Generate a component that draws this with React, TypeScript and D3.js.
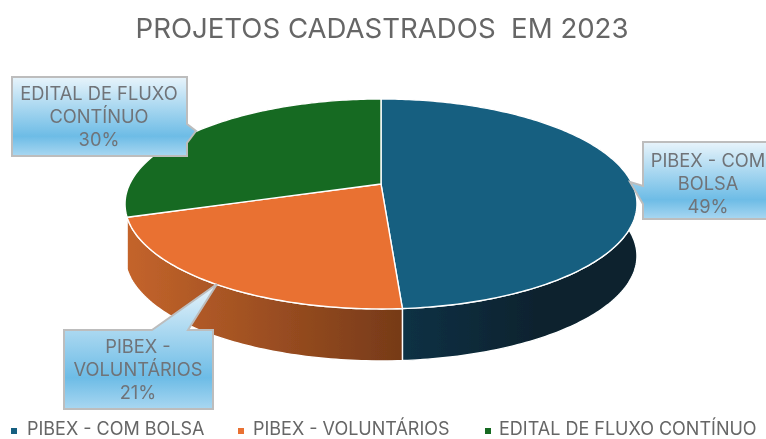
import React from "react";
import * as d3 from "d3";

const categories = ["PIBEX - COM BOLSA", "PIBEX - VOLUNTÁRIOS", "EDITAL DE FLUXO CONTÍNUO"];
const values = [48.9, 21.1, 30];
const topColors = ["#145f80", "#E97132", "#196B24"];
const wallFrom = ["#0c3348", "#c4642b", "#114a19"];
const wallTo = ["#07232f", "#763a18", "#0c3512"];
const calloutLines = [["PIBEX - COM", "BOLSA", "49%"], ["PIBEX -", "VOLUNTÁRIOS", "21%"], ["EDITAL DE FLUXO", "CONTÍNUO", "30%"]];
const title = "PROJETOS CADASTRADOS  EM 2023";

const FONT = "Inter, 'Open Sans', sans-serif";
const CX = 381, CY = 184, A = 101.2, C = 251.3, P = -0.19, DEPTH = 52;

const project = (angle: number, r = 1): [number, number] => {
  const u = Math.sin(angle) * r, v = -Math.cos(angle) * r;
  const w = 1 + P * v;
  return [CX + (C * u) / w, CY + (A * v) / w];
};

const callouts = [
  { pts: [[643, 142], [770, 142], [770, 219], [643, 219], [643, 204], [630, 182], [643, 186]], tx: 708, ty: 160 },
  { pts: [[64, 330], [152, 330], [217, 284], [188, 330], [213, 330], [213, 409], [64, 409]], tx: 138, ty: 346 },
  { pts: [[12, 77], [187, 77], [187, 124], [196, 131], [187, 143], [187, 156], [12, 156]], tx: 99, ty: 93 },
];
const legendX = [[14, 27], [241, 253], [488, 499]];
const line = d3.line();

export default function App() {
  const arcs = d3.pie<number>().sort(null)(values);
  const slices = arcs.map((a) => {
    const n = Math.max(2, Math.ceil((a.endAngle - a.startAngle) * 60));
    const angles = d3.range(n + 1).map((i) => a.startAngle + ((a.endAngle - a.startAngle) * i) / n);
    const rim = angles.map((t) => project(t));
    const top = line([[CX, CY], ...rim])! + "Z";
    const lower = rim.map(([x, y]) => [x, y + DEPTH] as [number, number]).reverse();
    const wall = line([...rim, ...lower])! + "Z";
    const xs = rim.map((p) => p[0]);
    return { top, wall, x0: d3.min(xs)!, x1: d3.max(xs)! };
  });

  return (
    <svg width={766} height={439} viewBox="0 0 766 439"
      style={{ position: "fixed", left: 0, top: 0, background: "#fff", fontFamily: FONT }}>
      <defs>
        <filter id="soft" x="-5%" y="-5%" width="110%" height="110%">
          <feGaussianBlur stdDeviation="0.55" />
        </filter>
        <linearGradient id="bubble" x1="0" y1="0" x2="0" y2="1">
          <stop offset="0" stopColor="#e8f4fb" />
          <stop offset="0.75" stopColor="#6dbce6" />
          <stop offset="1" stopColor="#a9d7f1" />
        </linearGradient>
        {slices.map((s, i) => (
          <linearGradient key={i} id={`wall${i}`} gradientUnits="userSpaceOnUse" x1={s.x0} x2={s.x1} y1={0} y2={0}>
            <stop offset="0" stopColor={wallFrom[i]} />
            <stop offset={i === 0 ? 0.6 : 1} stopColor={wallTo[i]} />
          </linearGradient>
        ))}
      </defs>
      <g filter="url(#soft)">
        <text x={382} y={38} textAnchor="middle" fontSize={27.6} fill="#666" style={{ whiteSpace: "pre" }}>{title}</text>
        <g stroke="#fff" strokeWidth={1.4} strokeLinejoin="round">
          {slices.slice(0, 2).map((s, i) => <path key={i} d={s.wall} fill={`url(#wall${i})`} />)}
          {slices.map((s, i) => <path key={i} d={s.top} fill={topColors[i]} />)}
        </g>
        {callouts.map((c, i) => (
          <g key={i}>
            <path d={line(c.pts as [number, number][])! + "Z"} fill="url(#bubble)" stroke="#bdbdbd" strokeWidth={2} />
            {calloutLines[i].map((t, j) => (
              <text key={j} x={c.tx} y={c.ty + 6.5 + j * 23} textAnchor="middle" fontSize={18.3} fill="#6f7378">{t}</text>
            ))}
          </g>
        ))}
        {categories.map((c, i) => (
          <g key={c}>
            <rect x={legendX[i][0] - 3} y={428} width={6} height={6} fill={topColors[i]} />
            <text x={legendX[i][1]} y={434.5} fontSize={18} fill="#666">{c}</text>
          </g>
        ))}
      </g>
    </svg>
  );
}
